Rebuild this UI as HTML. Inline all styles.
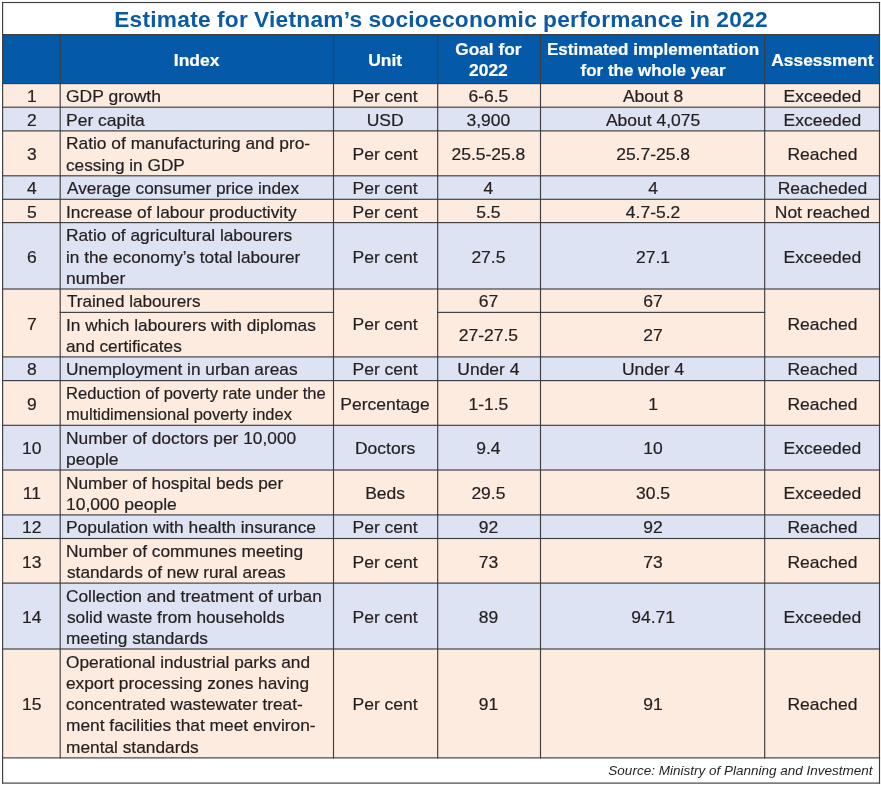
<!DOCTYPE html>
<html><head><meta charset="utf-8"><title>Estimate for Vietnam’s socioeconomic performance in 2022</title>
<style>
html,body{margin:0;padding:0;background:#fff}
body{width:881px;height:785px;position:relative;overflow:hidden;font-family:"Liberation Sans",sans-serif;color:#231f20}
.b,.l,.t,.title,.src{position:absolute}
svg{position:absolute;left:0;top:0}
.t{-webkit-text-stroke:0.2px;font-size:16.2px;line-height:21.2px;white-space:nowrap;transform:scaleX(1.08);transform-origin:0 0}
.c{text-align:center;transform-origin:50% 0}
.h{color:#fff;font-weight:bold;font-size:16.2px;transform:scaleX(1.06)}
.title{left:0.5px;top:5.3px;width:881px;text-align:center;font-weight:bold;font-size:22.7px;line-height:28px;letter-spacing:0.265px;word-spacing:-0.5px;color:#0b5aa5;white-space:nowrap}
.src{right:8.5px;top:763.3px;font-style:italic;font-size:13.5px;line-height:16px;white-space:nowrap}
</style></head><body>
<div class="b" style="left:2.6px;top:34.6px;width:876.9px;height:48.99999999999999px;background:#0459a8"></div>
<div class="b" style="left:2.6px;top:83.6px;width:876.9px;height:23.60000000000001px;background:#fdebdf"></div>
<div class="b" style="left:2.6px;top:107.2px;width:876.9px;height:23.700000000000003px;background:#dde3f2"></div>
<div class="b" style="left:2.6px;top:130.9px;width:876.9px;height:44.900000000000006px;background:#fdebdf"></div>
<div class="b" style="left:2.6px;top:175.8px;width:876.9px;height:23.5px;background:#dde3f2"></div>
<div class="b" style="left:2.6px;top:199.3px;width:876.9px;height:23.299999999999983px;background:#fdebdf"></div>
<div class="b" style="left:2.6px;top:222.6px;width:876.9px;height:66.4px;background:#dde3f2"></div>
<div class="b" style="left:2.6px;top:289.0px;width:876.9px;height:67.89999999999998px;background:#fdebdf"></div>
<div class="b" style="left:2.6px;top:356.9px;width:876.9px;height:23.700000000000045px;background:#dde3f2"></div>
<div class="b" style="left:2.6px;top:380.6px;width:876.9px;height:44.69999999999999px;background:#fdebdf"></div>
<div class="b" style="left:2.6px;top:425.3px;width:876.9px;height:44.69999999999999px;background:#dde3f2"></div>
<div class="b" style="left:2.6px;top:470px;width:876.9px;height:44.89999999999998px;background:#fdebdf"></div>
<div class="b" style="left:2.6px;top:514.9px;width:876.9px;height:23.600000000000023px;background:#dde3f2"></div>
<div class="b" style="left:2.6px;top:538.5px;width:876.9px;height:44.60000000000002px;background:#fdebdf"></div>
<div class="b" style="left:2.6px;top:583.1px;width:876.9px;height:65.89999999999998px;background:#dde3f2"></div>
<div class="b" style="left:2.6px;top:649px;width:876.9px;height:108.89999999999998px;background:#fdebdf"></div>
<div class="title">Estimate for Vietnam’s socioeconomic performance in 2022</div>
<div class="t c h" style="left:60.20px;top:50.10px;width:273.30px;transform:scaleX(1.0801)">Index</div>
<div class="t c h" style="left:332.90px;top:50.10px;width:104.20px;transform:scaleX(1.0757)">Unit</div>
<div class="t c h" style="left:437.20px;top:39.20px;width:102.80px;transform:scaleX(1.0669)">Goal for</div>
<div class="t c h" style="left:437.20px;top:60.40px;width:102.80px;transform:scaleX(1.0745)">2022</div>
<div class="t c h" style="left:540.50px;top:39.20px;width:224.20px;transform:scaleX(1.0531)">Estimated implementation</div>
<div class="t c h" style="left:540.50px;top:60.40px;width:224.20px;transform:scaleX(1.0463)">for the whole year</div>
<div class="t c h" style="left:764.70px;top:50.10px;width:114.80px;transform:scaleX(1.0706)">Assessment</div>
<div class="t c" style="left:2.60px;top:86.10px;width:57.60px">1</div>
<div class="t c" style="left:332.90px;top:86.10px;width:104.20px">Per cent</div>
<div class="t c" style="left:764.70px;top:86.10px;width:114.80px">Exceeded</div>
<div class="t " style="left:66.14px;top:86.10px;transform:scaleX(1.08)">GDP growth</div>
<div class="t c" style="left:437.20px;top:86.10px;width:102.80px">6-6.5</div>
<div class="t c" style="left:540.50px;top:86.10px;width:224.20px">About 8</div>
<div class="t c" style="left:2.60px;top:109.75px;width:57.60px">2</div>
<div class="t c" style="left:332.90px;top:109.75px;width:104.20px">USD</div>
<div class="t c" style="left:764.70px;top:109.75px;width:114.80px">Exceeded</div>
<div class="t " style="left:65.60px;top:109.75px;transform:scaleX(1.08)">Per capita</div>
<div class="t c" style="left:437.20px;top:109.75px;width:102.80px">3,900</div>
<div class="t c" style="left:540.50px;top:109.75px;width:224.20px">About 4,075</div>
<div class="t c" style="left:2.60px;top:144.05px;width:57.60px">3</div>
<div class="t c" style="left:332.90px;top:144.05px;width:104.20px">Per cent</div>
<div class="t c" style="left:764.70px;top:144.05px;width:114.80px">Reached</div>
<div class="t " style="left:65.61px;top:133.45px;transform:scaleX(1.0722)">Ratio of manufacturing and pro-</div>
<div class="t " style="left:66.36px;top:154.65px;transform:scaleX(1.0653)">cessing in GDP</div>
<div class="t c" style="left:437.20px;top:144.05px;width:102.80px">25.5-25.8</div>
<div class="t c" style="left:540.50px;top:144.05px;width:224.20px">25.7-25.8</div>
<div class="t c" style="left:2.60px;top:178.25px;width:57.60px">4</div>
<div class="t c" style="left:332.90px;top:178.25px;width:104.20px">Per cent</div>
<div class="t c" style="left:764.70px;top:178.25px;width:114.80px">Reacheded</div>
<div class="t " style="left:67.00px;top:178.25px;transform:scaleX(1.0632)">Average consumer price index</div>
<div class="t c" style="left:437.20px;top:178.25px;width:102.80px">4</div>
<div class="t c" style="left:540.50px;top:178.25px;width:224.20px">4</div>
<div class="t c" style="left:2.60px;top:201.65px;width:57.60px">5</div>
<div class="t c" style="left:332.90px;top:201.65px;width:104.20px">Per cent</div>
<div class="t c" style="left:764.70px;top:201.65px;width:114.80px">Not reached</div>
<div class="t " style="left:65.50px;top:201.65px;transform:scaleX(1.068)">Increase of labour productivity</div>
<div class="t c" style="left:437.20px;top:201.65px;width:102.80px">5.5</div>
<div class="t c" style="left:540.50px;top:201.65px;width:224.20px">4.7-5.2</div>
<div class="t c" style="left:2.60px;top:246.50px;width:57.60px">6</div>
<div class="t c" style="left:332.90px;top:246.50px;width:104.20px">Per cent</div>
<div class="t c" style="left:764.70px;top:246.50px;width:114.80px">Exceeded</div>
<div class="t " style="left:65.61px;top:225.30px;transform:scaleX(1.0691)">Ratio of agricultural labourers</div>
<div class="t " style="left:65.94px;top:246.50px;transform:scaleX(1.0644)">in the economy’s total labourer</div>
<div class="t " style="left:65.92px;top:267.70px;transform:scaleX(1.08)">number</div>
<div class="t c" style="left:437.20px;top:246.50px;width:102.80px">27.5</div>
<div class="t c" style="left:540.50px;top:246.50px;width:224.20px">27.1</div>
<div class="t c" style="left:2.60px;top:313.65px;width:57.60px">7</div>
<div class="t c" style="left:332.90px;top:313.65px;width:104.20px">Per cent</div>
<div class="t c" style="left:764.70px;top:313.65px;width:114.80px">Reached</div>
<div class="t " style="left:66.68px;top:291.40px;transform:scaleX(1.0573)">Trained labourers</div>
<div class="t " style="left:65.50px;top:314.75px;transform:scaleX(1.068)">In which labourers with diplomas</div>
<div class="t " style="left:66.36px;top:335.95px;transform:scaleX(1.063)">and certificates</div>
<div class="t c" style="left:437.20px;top:291.40px;width:102.80px">67</div>
<div class="t c" style="left:540.50px;top:291.40px;width:224.20px">67</div>
<div class="t c" style="left:437.20px;top:325.35px;width:102.80px">27-27.5</div>
<div class="t c" style="left:540.50px;top:325.35px;width:224.20px">27</div>
<div class="t c" style="left:2.60px;top:359.45px;width:57.60px">8</div>
<div class="t c" style="left:332.90px;top:359.45px;width:104.20px">Per cent</div>
<div class="t c" style="left:764.70px;top:359.45px;width:114.80px">Reached</div>
<div class="t " style="left:65.72px;top:359.45px;transform:scaleX(1.0678)">Unemployment in urban areas</div>
<div class="t c" style="left:437.20px;top:359.45px;width:102.80px">Under 4</div>
<div class="t c" style="left:540.50px;top:359.45px;width:224.20px">Under 4</div>
<div class="t c" style="left:2.60px;top:393.65px;width:57.60px">9</div>
<div class="t c" style="left:332.90px;top:393.65px;width:104.20px">Percentage</div>
<div class="t c" style="left:764.70px;top:393.65px;width:114.80px">Reached</div>
<div class="t " style="left:65.67px;top:383.05px;transform:scaleX(1.0238)">Reduction of poverty rate under the</div>
<div class="t " style="left:65.98px;top:404.25px;transform:scaleX(1.0209)">multidimensional poverty index</div>
<div class="t c" style="left:437.20px;top:393.65px;width:102.80px">1-1.5</div>
<div class="t c" style="left:540.50px;top:393.65px;width:224.20px">1</div>
<div class="t c" style="left:2.60px;top:438.35px;width:57.60px">10</div>
<div class="t c" style="left:332.90px;top:438.35px;width:104.20px">Doctors</div>
<div class="t c" style="left:764.70px;top:438.35px;width:114.80px">Exceeded</div>
<div class="t " style="left:65.61px;top:427.75px;transform:scaleX(1.0703)">Number of doctors per 10,000</div>
<div class="t " style="left:65.92px;top:448.95px;transform:scaleX(1.08)">people</div>
<div class="t c" style="left:437.20px;top:438.35px;width:102.80px">9.4</div>
<div class="t c" style="left:540.50px;top:438.35px;width:224.20px">10</div>
<div class="t c" style="left:2.60px;top:483.15px;width:57.60px">11</div>
<div class="t c" style="left:332.90px;top:483.15px;width:104.20px">Beds</div>
<div class="t c" style="left:764.70px;top:483.15px;width:114.80px">Exceeded</div>
<div class="t " style="left:65.61px;top:472.55px;transform:scaleX(1.0683)">Number of hospital beds per</div>
<div class="t " style="left:65.70px;top:493.75px;transform:scaleX(1.08)">10,000 people</div>
<div class="t c" style="left:437.20px;top:483.15px;width:102.80px">29.5</div>
<div class="t c" style="left:540.50px;top:483.15px;width:224.20px">30.5</div>
<div class="t c" style="left:2.60px;top:517.40px;width:57.60px">12</div>
<div class="t c" style="left:332.90px;top:517.40px;width:104.20px">Per cent</div>
<div class="t c" style="left:764.70px;top:517.40px;width:114.80px">Reached</div>
<div class="t " style="left:65.61px;top:517.40px;transform:scaleX(1.0727)">Population with health insurance</div>
<div class="t c" style="left:437.20px;top:517.40px;width:102.80px">92</div>
<div class="t c" style="left:540.50px;top:517.40px;width:224.20px">92</div>
<div class="t c" style="left:2.60px;top:551.50px;width:57.60px">13</div>
<div class="t c" style="left:332.90px;top:551.50px;width:104.20px">Per cent</div>
<div class="t c" style="left:764.70px;top:551.50px;width:114.80px">Reached</div>
<div class="t " style="left:65.61px;top:540.90px;transform:scaleX(1.0716)">Number of communes meeting</div>
<div class="t " style="left:66.57px;top:562.10px;transform:scaleX(1.0656)">standards of new rural areas</div>
<div class="t c" style="left:437.20px;top:551.50px;width:102.80px">73</div>
<div class="t c" style="left:540.50px;top:551.50px;width:224.20px">73</div>
<div class="t c" style="left:2.60px;top:606.75px;width:57.60px">14</div>
<div class="t c" style="left:332.90px;top:606.75px;width:104.20px">Per cent</div>
<div class="t c" style="left:764.70px;top:606.75px;width:114.80px">Exceeded</div>
<div class="t " style="left:66.15px;top:585.55px;transform:scaleX(1.0686)">Collection and treatment of urban</div>
<div class="t " style="left:66.57px;top:606.75px;transform:scaleX(1.0654)">solid waste from households</div>
<div class="t " style="left:65.93px;top:627.95px;transform:scaleX(1.0653)">meeting standards</div>
<div class="t c" style="left:437.20px;top:606.75px;width:102.80px">89</div>
<div class="t c" style="left:540.50px;top:606.75px;width:224.20px">94.71</div>
<div class="t c" style="left:2.60px;top:694.15px;width:57.60px">15</div>
<div class="t c" style="left:332.90px;top:694.15px;width:104.20px">Per cent</div>
<div class="t c" style="left:764.70px;top:694.15px;width:114.80px">Reached</div>
<div class="t " style="left:66.25px;top:651.75px;transform:scaleX(1.0678)">Operational industrial parks and</div>
<div class="t " style="left:66.36px;top:672.95px;transform:scaleX(1.0676)">export processing zones having</div>
<div class="t " style="left:66.36px;top:694.15px;transform:scaleX(1.0651)">concentrated wastewater treat-</div>
<div class="t " style="left:65.93px;top:715.35px;transform:scaleX(1.0713)">ment facilities that meet environ-</div>
<div class="t " style="left:65.93px;top:736.55px;transform:scaleX(1.0684)">mental standards</div>
<div class="t c" style="left:437.20px;top:694.15px;width:102.80px">91</div>
<div class="t c" style="left:540.50px;top:694.15px;width:224.20px">91</div>
<div class="src">Source: Ministry of Planning and Investment</div>
<svg width="881" height="785" viewBox="0 0 881 785" fill="#3e3d40"><rect x="2.03" y="1.93" width="878.05" height="1.15"/>
<rect x="2.03" y="782.52" width="878.05" height="1.15"/>
<rect x="2.03" y="1.93" width="1.15" height="781.75"/>
<rect x="878.92" y="1.93" width="1.15" height="781.75"/>
<rect x="2.03" y="34.02" width="878.05" height="1.15"/>
<rect x="2.03" y="83.02" width="878.05" height="1.15"/>
<rect x="2.03" y="106.62" width="878.05" height="1.15"/>
<rect x="2.03" y="130.33" width="878.05" height="1.15"/>
<rect x="2.03" y="175.23" width="878.05" height="1.15"/>
<rect x="2.03" y="198.73" width="878.05" height="1.15"/>
<rect x="2.03" y="222.03" width="878.05" height="1.15"/>
<rect x="2.03" y="288.43" width="878.05" height="1.15"/>
<rect x="2.03" y="356.32" width="878.05" height="1.15"/>
<rect x="2.03" y="380.03" width="878.05" height="1.15"/>
<rect x="2.03" y="424.73" width="878.05" height="1.15"/>
<rect x="2.03" y="469.43" width="878.05" height="1.15"/>
<rect x="2.03" y="514.32" width="878.05" height="1.15"/>
<rect x="2.03" y="537.92" width="878.05" height="1.15"/>
<rect x="2.03" y="582.52" width="878.05" height="1.15"/>
<rect x="2.03" y="648.42" width="878.05" height="1.15"/>
<rect x="2.03" y="757.32" width="878.05" height="1.15"/>
<rect x="59.62" y="34.02" width="1.15" height="724.45"/>
<rect x="332.93" y="34.02" width="1.15" height="724.45"/>
<rect x="437.12" y="34.02" width="1.15" height="724.45"/>
<rect x="539.92" y="34.02" width="1.15" height="724.45"/>
<rect x="764.12" y="34.02" width="1.15" height="724.45"/>
<rect x="59.62" y="311.82" width="274.45" height="1.15"/>
<rect x="437.12" y="311.82" width="328.15" height="1.15"/></svg>
</body></html>
